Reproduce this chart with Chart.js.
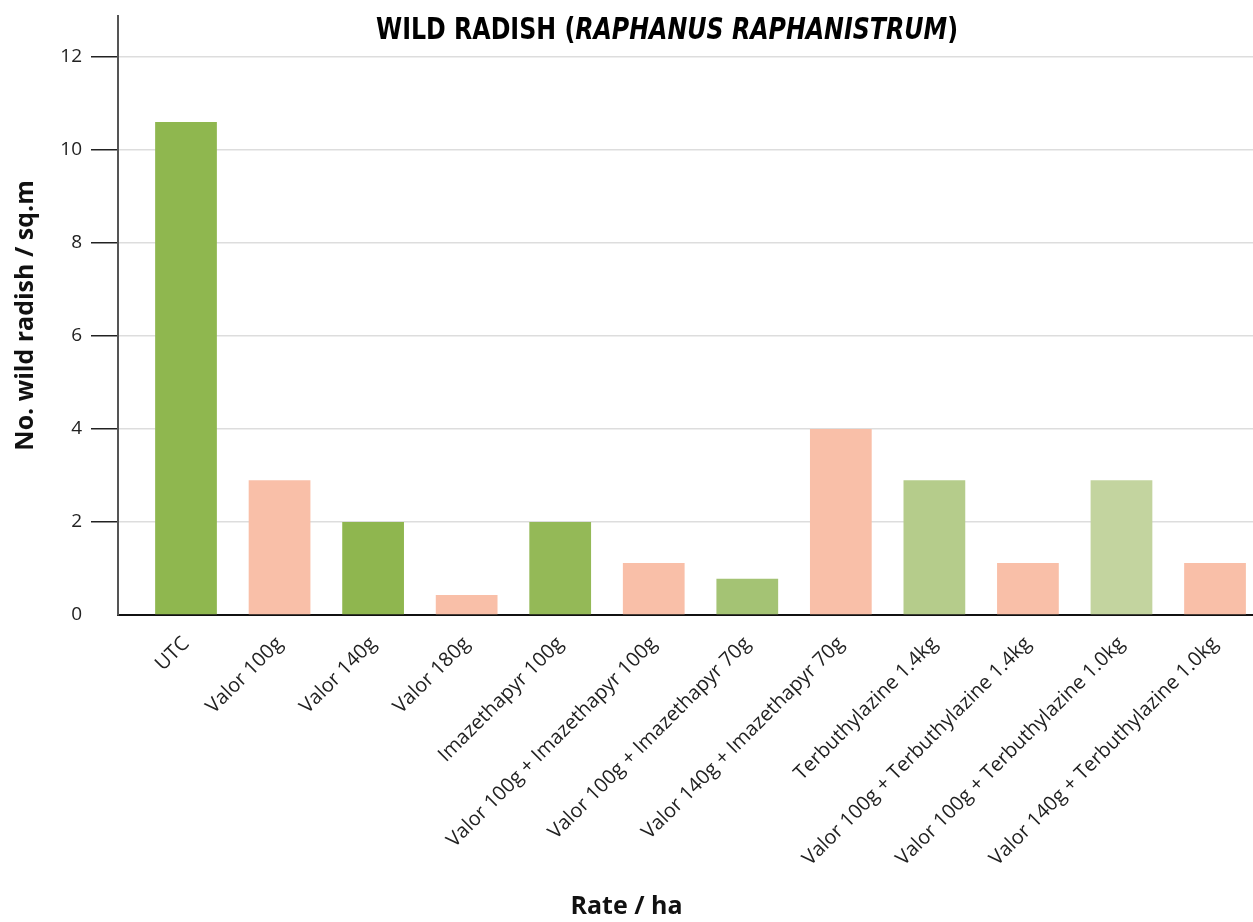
<!DOCTYPE html>
<html>
<head>
<meta charset="utf-8">
<script src="https://cdn.jsdelivr.net/npm/chart.js@4.4.1/dist/chart.umd.min.js"></script>
<style>
  html, body { margin: 0; padding: 0; background: #fff; }
  #wrap { width: 1253px; height: 922px; }
</style>
</head>
<body>
<div id="wrap"><canvas id="chart"></canvas></div>
<script>
'use strict';

// treatments, in the order they appear on the x axis
const categories = [
    'UTC',
    'Valor 100g',
    'Valor 140g',
    'Valor 180g',
    'Imazethapyr 100g',
    'Valor 100g + Imazethapyr 100g',
    'Valor 100g + Imazethapyr 70g',
    'Valor 140g + Imazethapyr 70g',
    'Terbuthylazine 1.4kg',
    'Valor 100g + Terbuthylazine 1.4kg',
    'Valor 100g + Terbuthylazine 1.0kg',
    'Valor 140g + Terbuthylazine 1.0kg'
];

// wild radish plants per square metre
const radishCounts = [10.6, 2.9, 2.0, 0.43, 2.0, 1.12, 0.78, 4.0, 2.9, 1.12, 2.9, 1.12];

const barColours = [
    '#8fb74f', '#f9bfa8', '#8fb64f', '#f9bfa8', '#94b957', '#f9bfa8',
    '#a4c374', '#f9bfa8', '#b5cc8b', '#f9bfa8', '#c3d49f', '#f9bfa8'
];

const yTicks = [0, 2, 4, 6, 8, 10, 12];

const family = '"Open Sans", "Noto Sans", sans-serif';
const xTickFont = { family: family, size: 20 };
const yTickFont = { family: family, size: 19 };
const boldFont = { family: family, size: 25, weight: 'bold' };

// title has an italic part, so draw it by hand
const mixedTitle = {
    id: 'mixedTitle',
    afterDraw: function (chart) {
        const ctx = chart.ctx;
        const fam = '"Liberation Sans Narrow", "DejaVu Sans Condensed", "Open Sans", sans-serif';
        const parts = [
            { text: 'WILD RADISH (', font: 'bold 31px ' + fam },
            { text: 'RAPHANUS RAPHANISTRUM', font: 'italic bold 31px ' + fam },
            { text: ')', font: 'bold 31px ' + fam }
        ];
        let total = 0;
        parts.forEach(p => { ctx.font = p.font; p.w = ctx.measureText(p.text).width; total += p.w; });
        const targetW = 582;
        ctx.save();
        ctx.fillStyle = '#000';
        ctx.textBaseline = 'alphabetic';
        ctx.textAlign = 'left';
        ctx.translate(667 - targetW / 2, 39);
        ctx.scale(targetW / total, 1);
        let x = 0;
        parts.forEach(p => { ctx.font = p.font; ctx.fillText(p.text, x, 0); x += p.w; });
        ctx.restore();
    }
};

new Chart(document.getElementById('chart'), {
    type: 'bar',
    data: {
        datasets: [{
            data: radishCounts.map((v, i) => ({ x: i, y: v })),
            backgroundColor: barColours,
            borderWidth: 0,
            barPercentage: 0.66,
            categoryPercentage: 1
        }]
    },
    options: {
        responsive: true,
        maintainAspectRatio: false,
        animation: false,
        layout: { padding: { top: 16, left: 0, right: 0, bottom: 0 } },
        plugins: {
            legend: { display: false },
            tooltip: { enabled: false },
            title: {
                display: true,
                position: 'bottom',
                text: 'Rate / ha',
                color: '#111',
                font: boldFont,
                padding: { top: 0, bottom: 0 }
            }
        },
        scales: {
            x: {
                type: 'linear',
                offset: false,
                min: -0.727,
                max: 11.406,
                afterBuildTicks: function (scale) {
                    scale.ticks = categories.map((c, i) => ({ value: i }));
                },
                afterFit: function (scale) { scale.height = 277; },
                grid: { display: false, drawTicks: false },
                border: { color: '#111', width: 2 },
                ticks: {
                    autoSkip: false,
                    maxRotation: 45,
                    minRotation: 45,
                    padding: 17,
                    color: '#222',
                    font: xTickFont,
                    callback: function (value) { return categories[value]; }
                }
            },
            y: {
                min: 0,
                max: 12.88,
                afterBuildTicks: function (scale) {
                    scale.ticks = yTicks.map(v => ({ value: v }));
                },
                afterFit: function (scale) {
                    scale.width = 118;
                    scale.paddingTop = 0;
                    scale.paddingBottom = 0;
                },
                grid: {
                    color: ctx => (ctx.tick && ctx.tick.value === 0) ? 'rgba(0,0,0,0)' : '#dddddd',
                    tickColor: ctx => (ctx.tick && ctx.tick.value === 0) ? 'rgba(0,0,0,0)' : '#222',
                    lineWidth: 1.5,
                    tickLength: 27,
                    tickWidth: 1.5
                },
                border: { color: '#555', width: 2 },
                ticks: {
                    padding: 9,
                    color: '#222',
                    font: yTickFont
                },
                title: {
                    display: true,
                    text: 'No. wild radish / sq.m',
                    color: '#111',
                    font: boldFont,
                    padding: { top: 11, bottom: 0 }
                }
            }
        }
    },
    plugins: [mixedTitle]
});
</script>
</body>
</html>
